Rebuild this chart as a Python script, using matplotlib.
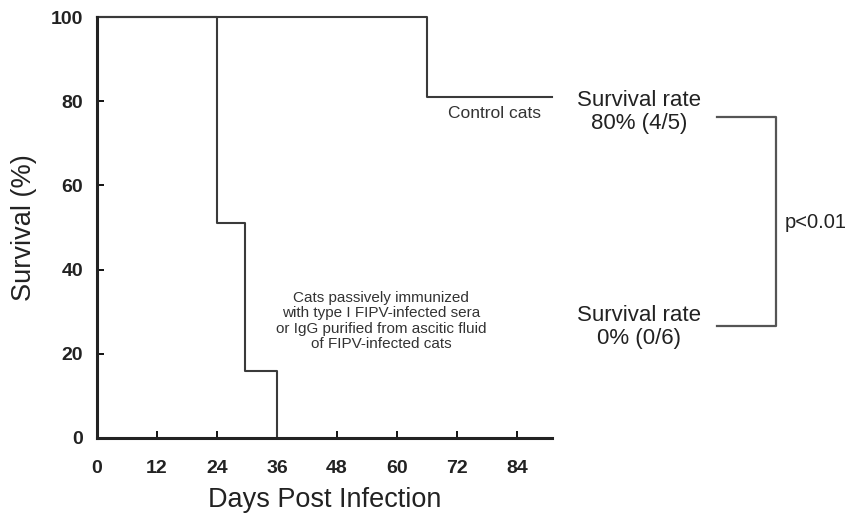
import matplotlib
matplotlib.use("Agg")
import matplotlib.pyplot as plt
from matplotlib.lines import Line2D

plt.rcParams['font.family'] = ['Liberation Sans', 'DejaVu Sans']

# step survival curves (days, survival %)
control_days = [0, 66, 91]
control_surv = [100, 81, 81]
treated_days = [0, 24, 29.5, 36]
treated_surv = [100, 51, 16, 0]

xticks = [0, 12, 24, 36, 48, 60, 72, 84]
yticks = [0, 20, 40, 60, 80, 100]

fig = plt.figure(figsize=(8.48, 5.2), dpi=100)
ax = fig.add_axes([97/848, 82/520, 455/848, 421/520])

line_kw = dict(where='post', color='#3a3a3a', lw=1.5, clip_on=False)
ax.step(control_days, control_surv, **line_kw)
ax.step(treated_days, treated_surv, **line_kw)

ax.set_xlim(0, 91)
ax.set_ylim(0, 100)
ax.set_xticks(xticks)
ax.set_yticks(yticks)
ax.tick_params(direction='in', length=5, width=1.3, labelsize=14)
ax.tick_params(axis='x', pad=16)
ax.tick_params(axis='y', pad=10)
for lab in ax.get_xticklabels() + ax.get_yticklabels():
    lab.set_fontweight('bold')
    lab.set_color('#222222')

for s in ['top', 'right']:
    ax.spines[s].set_visible(False)
for s in ['left', 'bottom']:
    ax.spines[s].set_linewidth(2.2)
    ax.spines[s].set_color('#222222')

ax.set_xlabel('Days Post Infection', fontsize=19.5, labelpad=7, color='#222222')
ax.set_ylabel('Survival (%)', fontsize=19.5, labelpad=10, color='#222222')

# annotations inside the plot
fig.text(495/848, 1 - 113/520, 'Control cats', ha='center', va='center',
         fontsize=12.5, color='#333333')
fig.text(381/848, 1 - 321/520,
         'Cats passively immunized\nwith type I FIPV-infected sera\n'
         'or IgG purified from ascitic fluid\nof FIPV-infected cats',
         ha='center', va='center', fontsize=11, linespacing=1.15, color='#333333')

# survival rates on the right
fig.text(639/848, 1 - 112/520, 'Survival rate\n80% (4/5)', ha='center', va='center',
         fontsize=16, linespacing=1.1, color='#222222')
fig.text(639/848, 1 - 327/520, 'Survival rate\n0% (0/6)', ha='center', va='center',
         fontsize=16, linespacing=1.1, color='#222222')

# bracket
bx = [717/848, 776/848, 776/848, 717/848]
by = [1 - 117/520, 1 - 117/520, 1 - 326/520, 1 - 326/520]
fig.add_artist(Line2D(bx, by, color='#555555', lw=1.6))
fig.text(785/848, 1 - 222/520, 'p<0.01', ha='left', va='center',
         fontsize=14.5, color='#222222')

fig.savefig('out.png', dpi=100)
